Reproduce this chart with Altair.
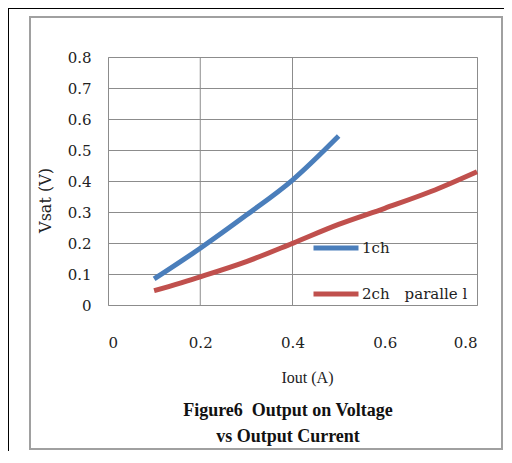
import altair as alt
import pandas as pd

# ---- data ----
iout_1ch = [0.1, 0.2, 0.3, 0.4, 0.5]
vsat_1ch = [0.084, 0.183, 0.29, 0.403, 0.545]
iout_2ch = [0.1, 0.2, 0.3, 0.4, 0.5, 0.6, 0.7, 0.8]
vsat_2ch = [0.046, 0.091, 0.14, 0.199, 0.26, 0.312, 0.366, 0.43]
series_names = ["1ch", "2ch\u3000paralle l"]
series_colors = ["#4a7ebb", "#c0504d"]
x_ticks = [0, 0.2, 0.4, 0.6, 0.8]
y_ticks = [0, 0.1, 0.2, 0.3, 0.4, 0.5, 0.6, 0.7, 0.8]
x_grid = [0.2, 0.4]
title_line1 = "Figure6\u00a0 Output on Voltage"
title_line2 = "vs Output Current"
x_title = "Iout (A)"
y_title = "Vsat (V)"

FONT = "Liberation Serif"
TFONT = "DejaVu Serif"
GRID = "#8c8c8c"

df = pd.concat([
    pd.DataFrame({"I": iout_1ch, "V": vsat_1ch, "s": series_names[0]}),
    pd.DataFrame({"I": iout_2ch, "V": vsat_2ch, "s": series_names[1]}),
])

W, H = 369, 248

xscale = alt.Scale(domain=[0, 0.8], nice=False)
yscale = alt.Scale(domain=[0, 0.8], nice=False)

lines = alt.Chart(df).mark_line(strokeWidth=5, interpolate="monotone", strokeCap="butt").encode(
    x=alt.X("I:Q", scale=xscale, axis=alt.Axis(
        values=x_ticks, grid=False, ticks=False, domain=False,
        labelExpr="datum.value == 0 ? '0' : format(datum.value, '.1f')",
        labelFont=TFONT, labelFontSize=15, labelColor="#222", labelPadding=30,
        title=x_title, titleFont=FONT, titleFontSize=16, titleFontWeight="normal",
        titleColor="#222", titleX=199, titleY=72, titleBaseline="middle")),
    y=alt.Y("V:Q", scale=yscale, axis=alt.Axis(
        values=y_ticks, grid=True, gridColor=GRID, gridOpacity=1, ticks=False, domain=False,
        labelExpr="datum.value == 0 ? '0' : format(datum.value, '.1f')",
        labelFont=TFONT, labelFontSize=15, labelColor="#222", labelPadding=17,
        title=y_title, titleFont=TFONT, titleFontSize=16, titleFontWeight="normal",
        titleColor="#222", titleX=-63, titleY=143, titleBaseline="middle",
        titleAlign="center", titleAngle=-90)),
    color=alt.Color("s:N", sort=series_names,
                    scale=alt.Scale(domain=series_names, range=series_colors),
                    legend=alt.Legend(orient="none", legendX=203, legendY=166, title=None,
                                      symbolType="stroke", symbolSize=2025, symbolStrokeWidth=5,
                                      labelFont=TFONT, labelFontSize=15, labelColor="#222",
                                      rowPadding=11, labelOffset=1)),
)

vgrid = alt.Chart(pd.DataFrame({"g": x_grid})).mark_rule(color=GRID, strokeWidth=1).encode(
    x=alt.X("g:Q", scale=xscale)
)

frame_black = alt.Chart(pd.DataFrame({"a": [0]})).mark_rect(
    filled=False, stroke="black", strokeWidth=2
).encode(x=alt.value(-100), x2=alt.value(520), y=alt.value(-49), y2=alt.value(520))

frame_gray = alt.Chart(pd.DataFrame({"a": [0]})).mark_rect(
    filled=False, stroke="#a0a0a0", strokeWidth=2
).encode(x=alt.value(-78), x2=alt.value(394), y=alt.value(-40), y2=alt.value(392))


def title_text(txt, ypix):
    return alt.Chart(pd.DataFrame({"t": [txt]})).mark_text(
        font=FONT, fontSize=18, fontWeight="bold", color="#111",
        align="center", baseline="middle"
    ).encode(text="t:N", x=alt.value(180), y=alt.value(ypix))


t1 = title_text(title_line1, 354)
t2 = title_text(title_line2, 380)

chart = alt.layer(frame_black, frame_gray, vgrid, lines, t1, t2).properties(
    width=W, height=H,
    padding={"left": 100, "top": 49, "right": 27, "bottom": 146},
    autosize=alt.AutoSizeParams(type="none"),
).configure_view(stroke=GRID, strokeWidth=1)

chart.save("out.html", embed_options={"renderer": "svg", "actions": False})
